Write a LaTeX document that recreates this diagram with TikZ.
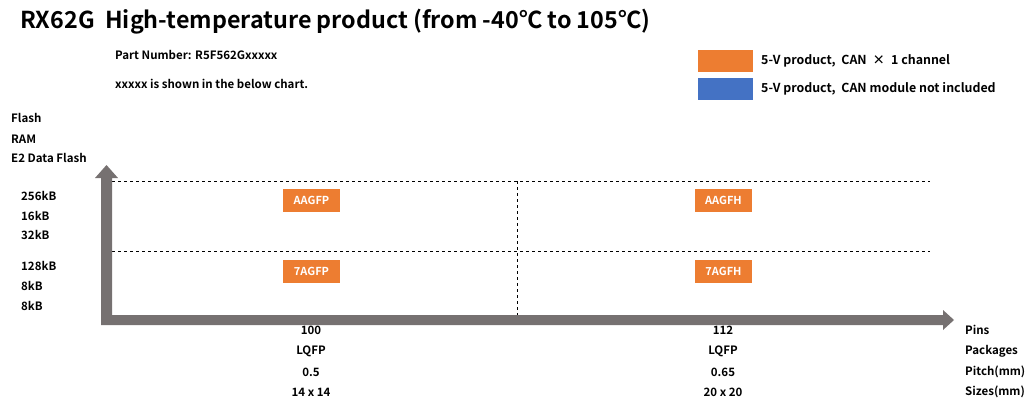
\documentclass[tikz,border=0pt]{standalone}
\usepackage{fontspec}
\setmainfont{Noto Sans CJK JP}[BoldFont={Noto Sans CJK JP Bold}]
\usetikzlibrary{positioning}
\definecolor{arrowgray}{HTML}{767171}
\definecolor{prodorange}{HTML}{ED7D31}
\definecolor{prodblue}{HTML}{4472C4}
\begin{document}
\begin{tikzpicture}[x=1pt,y=-1pt,
  lbl/.style={font=\fontsize{11.5}{13}\selectfont\bfseries, inner sep=0pt, anchor=west},
  clbl/.style={font=\fontsize{11.5}{13}\selectfont\bfseries, inner sep=0pt},
  leg/.style={font=\fontsize{12.4}{14}\selectfont\bfseries, inner sep=0pt, anchor=west},
  prod/.style={fill=prodorange, text=white, font=\fontsize{11}{12}\selectfont\bfseries, minimum width=57pt, minimum height=23pt, inner sep=0pt},
  grid/.style={dashed, line width=0.8pt, black},
  axis/.style={fill=arrowgray, draw=none}]
\useasboundingbox (0,0) rectangle (1036,407);
% title
\node[anchor=west, inner sep=0pt, font=\fontsize{23.3}{27}\selectfont\bfseries] (title) at (20,22) {RX62G\ \ High-temperature product (from -40℃ to 105℃)};
\node[lbl] (pn) at (115,55) {Part Number: R5F562Gxxxxx};
\node[lbl] (note) at (115,84) {xxxxx is shown in the below chart.};
% legend
\node[fill=prodorange, minimum width=55pt, minimum height=22pt, inner sep=0pt, anchor=north west] (lo) at (698,50) {};
\node[fill=prodblue, minimum width=55pt, minimum height=22pt, inner sep=0pt, anchor=north west] (lb) at (698,78) {};
\node[leg] (lot) at (761,61) {5-V product,\ \ CAN\hspace{6pt}×\hspace{6pt}1 channel};
\node[leg] (lbt) at (761,89) {5-V product,\ \ CAN module not included};
% y-axis labels
\node[lbl] (yf) at (11,118) {Flash};
\node[lbl] (yr) at (11,139) {RAM};
\node[lbl] (ye) at (11,158) {E2 Data Flash};
\node[lbl] (a1) at (21,196) {256kB};
\node[lbl] (a2) at (21,216) {16kB};
\node[lbl] (a3) at (21,235) {32kB};
\node[lbl] (b1) at (21,266) {128kB};
\node[lbl] (b2) at (21,286) {8kB};
\node[lbl] (b3) at (21,306) {8kB};
% grid
\coordinate (g1l) at (112,181); \coordinate (g1r) at (930,181);
\coordinate (g2l) at (112,251); \coordinate (g2r) at (930,251);
\coordinate (gvt) at (517,181); \coordinate (gvb) at (517,315);
\draw[grid] (g1l) -- (g1r);
\draw[grid] (g2l) -- (g2r);
\draw[grid] (gvt) -- (gvb);
% axes
\fill[axis] (101,325) -- (101,178) -- (95,178) -- (106.5,165) -- (118,178) -- (112,178) -- (112,315) -- (943,315) -- (943,310) -- (954,320) -- (943,330) -- (943,325) -- cycle;
% products
\node[prod] (p1) at (311.5,200.5) {AAGFP};
\node[prod] (p2) at (723.5,200.5) {AAGFH};
\node[prod] (p3) at (311.5,271) {7AGFP};
\node[prod] (p4) at (723.5,271) {7AGFH};
% x-axis labels
\node[clbl] (c1a) at (311,330) {100};
\node[clbl] (c1b) at (311,351) {LQFP};
\node[clbl] (c1c) at (311,372) {0.5};
\node[clbl] (c1d) at (311,392) {14 x 14};
\node[clbl] (c2a) at (723,330) {112};
\node[clbl] (c2b) at (723,351) {LQFP};
\node[clbl] (c2c) at (723,372) {0.65};
\node[clbl] (c2d) at (723,392) {20 x 20};
\node[lbl] (r1) at (965,330) {Pins};
\node[lbl] (r2) at (965,351) {Packages};
\node[lbl] (r3) at (965,372) {Pitch(mm)};
\node[lbl] (r4) at (965,392) {Sizes(mm)};
\end{tikzpicture}
\end{document}
